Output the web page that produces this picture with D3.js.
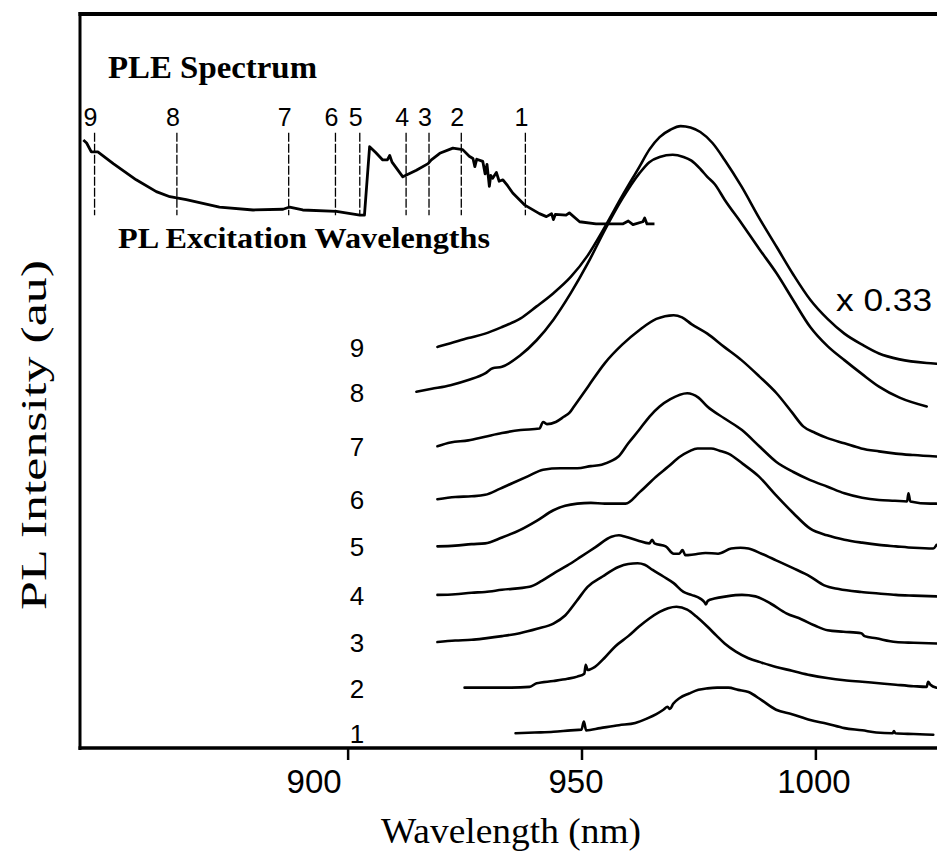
<!DOCTYPE html>
<html>
<head>
<meta charset="utf-8">
<script src="https://cdn.jsdelivr.net/npm/d3@7"></script>
<style>
  html, body { margin: 0; padding: 0; background: #fff; }
  svg { display: block; }
</style>
</head>
<body>
<svg id="chart" width="937" height="852"></svg>
<script>
// Photoluminescence spectra (wavelength nm, intensity au incl. vertical stacking offset)
const spectrumLabels = ["9", "8", "7", "6", "5", "4", "3", "2", "1"];

const pl9 = [[919.2,54.5],[922,55.0],[925.8,55.7],[929.4,56.3],[933,57.2],[936.8,58.3],[940.4,60.0],[944,61.8],[947.7,64.0],[951.3,66.9],[955,70.8],[958.7,75.0],[962.4,79.0],[964.5,81.3],[966.7,83.0],[969,84.0],[971.2,84.5],[973.3,84.3],[975.4,83.7],[978,82.2],[980.6,79.9],[984.2,76.3],[988,72.0],[991.7,68.1],[995.3,64.3],[998.9,60.9],[1002.6,58.3],[1006.2,56.3],[1010,54.8],[1013.6,53.6],[1018,52.8],[1023.8,52.3],[1025.9,52.2]];
const pl8 = [[914.7,48.4],[918,48.8],[922,49.3],[925.8,50.0],[929.4,50.9],[931,51.6],[933,51.8],[936.8,53.3],[940.4,55.4],[944,58.2],[947.7,61.8],[951.3,65.8],[955,70.4],[958.7,74.6],[962.4,78.1],[964.5,79.6],[966.7,80.3],[969.5,80.6],[971.8,80.3],[973.5,79.8],[975.5,78.6],[976.9,77.6],[978.5,76.6],[980.6,74.5],[984.2,71.3],[988,67.8],[991.7,64.5],[995.3,60.8],[998.9,57.2],[1002.6,54.6],[1006.2,52.7],[1010,50.8],[1013.6,49.1],[1018,47.6],[1023.8,46.4]];
const pl7 = [[919.2,41.0],[922,41.5],[925.8,41.8],[929.4,42.3],[933,42.8],[937,43.2],[941,43.4],[941.8,44.3],[942.6,44.0],[944.5,44.3],[946.2,45.0],[947.5,45.6],[948.4,46.4],[951.5,49.2],[955,52.3],[958.7,54.8],[962.4,56.8],[966,58.3],[969.7,58.8],[971.5,58.5],[973.5,57.6],[976.9,56.3],[980.5,54.5],[984.2,52.7],[988,50.5],[991.7,48.2],[995,45.6],[997.4,43.7],[1000,42.8],[1002.6,42.1],[1006.2,41.4],[1009.8,40.7],[1013.6,40.3],[1017.2,40.0],[1021,39.8],[1025.9,39.6]];
const pl6 = [[919.2,33.8],[923,34.1],[926.5,34.2],[929.4,34.4],[932.5,35.2],[935.3,36.0],[938.5,36.9],[941.8,37.8],[945.5,38.0],[949.1,38.0],[952,38.3],[954.3,38.5],[956.4,39.0],[957.9,39.6],[960,41.4],[962.3,43.2],[964.5,45.0],[966.7,46.4],[969,47.4],[972.6,48.2],[975,47.6],[976.9,46.4],[980.5,44.8],[984.3,43.2],[988,41.0],[991.6,38.9],[995.3,37.5],[998.9,36.4],[1002.6,35.5],[1006.2,34.6],[1010,34.0],[1013.6,33.7],[1017,33.6],[1019.6,33.5],[1019.9,34.6],[1020.3,33.5],[1024.6,33.2],[1025.9,33.2]];
const pl5 = [[919.2,27.4],[923,27.5],[926.5,27.7],[929.4,27.8],[933,28.6],[936.8,29.6],[940.5,30.9],[944,32.3],[946.5,32.9],[949.1,33.2],[952,33.3],[955,33.2],[959.4,33.2],[962.5,34.8],[966,36.9],[968.5,38.2],[971.1,39.6],[973,40.3],[974.8,40.7],[977.7,40.7],[979.5,40.4],[981.4,40.0],[984.5,38.6],[987.9,36.9],[991.5,34.4],[995.3,31.9],[998.9,29.8],[1002.5,28.9],[1006.2,28.3],[1010,27.9],[1013.6,27.6],[1017.2,27.4],[1021,27.2],[1025.2,27.1],[1025.9,27.6]];
const pl4 = [[919.2,20.8],[923,20.9],[926.5,21.1],[929.4,21.2],[933,21.5],[938.9,21.9],[941.5,22.7],[944,23.7],[947,24.8],[949.9,26.0],[953,27.3],[956.4,28.7],[958,28.9],[959.4,28.7],[962,28.2],[964.5,27.8],[965.1,28.3],[965.6,27.8],[968,27.4],[969.7,26.4],[970.9,26.4],[971.6,26.9],[972.2,26.2],[974,26.3],[976.5,26.5],[979.2,26.4],[982,27.1],[984,27.2],[985.7,27.1],[988.5,26.4],[991.6,25.5],[995,24.5],[998.9,23.3],[1001.9,22.1],[1005,21.6],[1009.8,21.2],[1013.5,21.0],[1017.2,20.8],[1021,20.7],[1025.9,20.6]];
const pl3 = [[919.2,14.4],[923,14.6],[926.5,14.7],[929.4,14.9],[933,15.2],[936.8,15.6],[940.5,16.2],[944,16.9],[946.5,18.0],[949,20.0],[951.3,21.9],[954.5,23.3],[957.9,24.6],[960,25.0],[962,25.1],[963.5,24.9],[965.2,24.2],[967.5,23.3],[969.7,22.4],[971.8,21.2],[973.5,20.8],[975.4,20.3],[976.3,19.8],[976.6,19.5],[977,20.0],[978.4,20.3],[981,20.6],[984.3,20.8],[987.2,20.6],[990.5,19.6],[993.8,18.3],[997,17.5],[1000,16.6],[1002.6,16.0],[1006,15.8],[1009.8,15.6],[1010.5,15.2],[1013,14.9],[1017.2,14.4],[1021,14.3],[1025.9,14.2]];
const pl2 = [[925,8.2],[930,8.2],[935,8.2],[938.9,8.3],[940.4,8.8],[944,9.1],[947,9.4],[949.1,9.7],[950.6,10.1],[950.9,11.3],[951.3,10.6],[952.8,11.0],[955,12.3],[957.2,13.8],[960,15.2],[962.3,16.5],[964.5,17.6],[966.7,18.5],[968.5,19.0],[970.3,19.2],[972.6,18.8],[974.5,17.9],[976.9,16.5],[978.8,15.3],[980.6,14.2],[983,13.1],[985.7,12.2],[988.5,11.6],[991.6,11.0],[995,10.5],[998.9,9.9],[1002.5,9.5],[1006.2,9.2],[1010,9.0],[1013.6,8.8],[1017.2,8.6],[1021,8.4],[1023.8,8.3],[1024.1,9.0],[1024.6,8.6],[1025.9,8.2]];
const pl1 = [[935.9,2.0],[940,2.1],[944,2.2],[947.7,2.4],[950,2.5],[950.5,3.6],[951,2.4],[954,2.7],[958,3.1],[961.5,3.4],[964,4.0],[966,4.6],[967.5,5.2],[968.4,5.6],[968.9,5.3],[969.6,6.0],[971,6.8],[973,7.4],[975,7.9],[976.9,8.1],[979,8.2],[981.4,8.2],[983.5,7.9],[985.7,7.6],[988.5,6.5],[991.6,5.2],[995,4.6],[998.9,3.8],[1002.5,3.3],[1006.2,2.7],[1010,2.4],[1013,2.1],[1016.5,2.0],[1016.8,2.3],[1017.1,2.0],[1021,1.9],[1025.2,1.8]];

// PL excitation (PLE) spectrum, same wavelength axis
const ple = [[843.5,82.6],[844.2,82.2],[845.2,81.0],[846.6,81.0],[849.9,79.4],[854.8,77.2],[859.1,75.6],[862,74.9],[865.5,74.5],[872.6,73.5],[879.8,73.1],[886.2,73.2],[887.6,73.5],[890.4,73.1],[897.6,72.9],[902.6,72.4],[903.6,72.4],[904.7,81.7],[906,80.9],[907.5,79.9],[908.5,79.9],[909,80.5],[909.5,79.6],[911.8,77.6],[914.7,78.5],[917.2,79.4],[917.9,79.9],[919.7,80.8],[922.5,81.5],[924.6,81.3],[926,80.4],[926.8,80.1],[927.2,79.0],[927.6,80.0],[928.9,79.7],[929.4,78.0],[929.8,79.3],[930.3,76.3],[930.6,77.8],[931,77.4],[931.8,78.2],[932.4,77.0],[933.2,77.2],[934.2,76.4],[935.3,75.4],[937.8,73.8],[941,72.6],[942.5,72.2],[943.6,72.6],[944,71.8],[944.4,72.5],[946.7,72.4],[947.4,72.7],[949.6,71.5],[953.1,71.2],[958.8,71.2],[960,71.6],[961,71.1],[963.1,71.5],[963.5,72.0],[964,71.2],[965.6,71.2]];

// Excitation wavelengths used for spectra 9..1
const excitationNm = [845.9, 863.5, 887.4, 897.4, 902.6, 912.5, 917.4, 924.3, 938.0];

const xTicks = [900, 950, 1000];

const spectra = [pl9, pl8, pl7, pl6, pl5, pl4, pl3, pl2, pl1];

// ---- layout ----
const svg = d3.select("#chart");
const plotLeft = 81, plotRight = 937, plotTop = 14, plotBottom = 748;

const x = d3.scaleLinear().domain([843, 1026]).range([plotLeft, plotRight]);
const y = d3.scaleLinear().domain([0, 100]).range([plotBottom, 12]);

const serif = "'Liberation Serif', 'Times New Roman', Times, serif";
const sans = "'Liberation Sans', Arial, Helvetica, sans-serif";

const line = d3.line()
  .x(d => x(d[0]))
  .y(d => y(d[1]))
  .curve(d3.curveMonotoneX);

// frame: left and top edges plus bottom axis
svg.append("line").attr("x1", plotLeft - 1).attr("x2", plotLeft - 1).attr("y1", plotTop - 2).attr("y2", plotBottom + 2)
  .attr("stroke", "#000").attr("stroke-width", 3);
svg.append("line").attr("x1", plotLeft - 2.5).attr("x2", 937).attr("y1", plotTop).attr("y2", plotTop)
  .attr("stroke", "#000").attr("stroke-width", 4);

const xAxis = d3.axisBottom(x).tickValues(xTicks).tickSize(12).tickPadding(10).tickFormat(d3.format("d"));
const gx = svg.append("g").attr("transform", `translate(0,${plotBottom})`).call(xAxis);
gx.select(".domain").attr("stroke", "#000").attr("stroke-width", 3.5)
  .attr("d", `M${plotLeft - 2.5},0H${plotRight}`);
gx.selectAll(".tick line").attr("stroke", "#000").attr("stroke-width", 2.5);
// the first label sits to the left of its tick, as printed
const tickShift = { 900: -34, 950: -6, 1000: -2 };
gx.selectAll(".tick text").attr("font-family", sans).attr("font-size", 33).attr("fill", "#000")
  .attr("dx", d => tickShift[d] || 0);

// axis titles
svg.append("text").attr("x", 511).attr("y", 843).attr("text-anchor", "middle")
  .attr("font-family", serif).attr("font-size", 35)
  .attr("textLength", 260).attr("lengthAdjust", "spacingAndGlyphs")
  .text("Wavelength (nm)");
svg.append("text").attr("transform", "translate(46,435) rotate(-90)").attr("text-anchor", "middle")
  .attr("font-family", serif).attr("font-size", 35)
  .attr("textLength", 350).attr("lengthAdjust", "spacingAndGlyphs")
  .text("PL Intensity (au)");

// stacked PL spectra
svg.append("g").selectAll("path").data(spectra).join("path")
  .attr("d", line)
  .attr("fill", "none").attr("stroke", "#000").attr("stroke-width", 2.6)
  .attr("stroke-linejoin", "round").attr("stroke-linecap", "round");

// spectrum numbers beside each trace
svg.append("g").selectAll("text").data(spectra).join("text")
  .attr("x", 357)
  .attr("y", d => y(d[0][1]) + 10)
  .attr("text-anchor", "middle")
  .attr("font-family", sans).attr("font-size", 26)
  .text((d, i) => spectrumLabels[i]);

svg.append("text").attr("x", 836).attr("y", 311)
  .attr("font-family", sans).attr("font-size", 31)
  .attr("textLength", 96).attr("lengthAdjust", "spacingAndGlyphs")
  .text("x 0.33");

// PLE spectrum inset
svg.append("path").datum(ple).attr("d", d3.line().x(d => x(d[0])).y(d => y(d[1])))
  .attr("fill", "none").attr("stroke", "#000").attr("stroke-width", 2.8)
  .attr("stroke-linejoin", "round");

const markTop = y(83.6), markBottom = y(72.4);
svg.append("g").selectAll("line").data(excitationNm).join("line")
  .attr("x1", d => x(d)).attr("x2", d => x(d))
  .attr("y1", markTop).attr("y2", markBottom)
  .attr("stroke", "#000").attr("stroke-width", 1.3).attr("stroke-dasharray", "9,2");

svg.append("g").selectAll("text").data(excitationNm).join("text")
  .attr("x", d => x(d) - 4).attr("y", 126)
  .attr("text-anchor", "middle")
  .attr("font-family", sans).attr("font-size", 25)
  .text((d, i) => spectrumLabels[i]);

svg.append("text").attr("x", 108).attr("y", 78)
  .attr("font-family", serif).attr("font-weight", "bold").attr("font-size", 31)
  .attr("textLength", 209).attr("lengthAdjust", "spacingAndGlyphs")
  .text("PLE Spectrum");
svg.append("text").attr("x", 118).attr("y", 248)
  .attr("font-family", serif).attr("font-weight", "bold").attr("font-size", 30)
  .attr("textLength", 372).attr("lengthAdjust", "spacingAndGlyphs")
  .text("PL Excitation Wavelengths");
</script>
</body>
</html>
